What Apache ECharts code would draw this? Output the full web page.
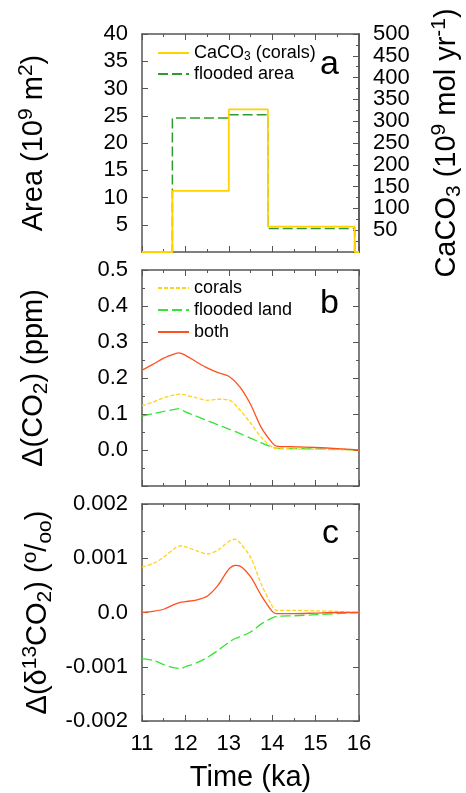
<!DOCTYPE html>
<html>
<head>
<meta charset="utf-8">
<script src="https://cdn.jsdelivr.net/npm/echarts@6/dist/echarts.min.js"></script>
<style>
    html, body { margin: 0; padding: 0; background: #fff; }
    #chart { width: 466px; height: 793px; }
</style>
</head>
<body>
<div id="chart"></div>
<script>
// panel a: step data (time in ka)
let timeA = [11, 11.7, 13.0, 13.9, 15.9, 16];
let coralCaCO3 = [0, 140, 327, 58, 0, 0];      // 10^9 mol/yr, right axis
let floodedArea = [0, 24.6, 25.2, 4.3, 0, 0];   // 10^9 m2, left axis

// panel b: delta CO2 (ppm)
let timeB = [11, 11.25, 11.5, 11.75, 11.85, 12, 12.25, 12.5, 12.75, 13, 13.25, 13.5, 13.75, 14, 14.1, 14.5, 15, 15.5, 16];
let coralsB = [0.123, 0.133, 0.145, 0.153, 0.155, 0.153, 0.145, 0.138, 0.141, 0.139, 0.112, 0.075, 0.035, 0.008, 0.004, 0.003, 0.002, 0.001, 0.0];
let floodB = [0.094, 0.101, 0.107, 0.113, 0.115, 0.106, 0.094, 0.082, 0.070, 0.058, 0.046, 0.033, 0.020, 0.008, 0.005, 0.004, 0.003, 0.002, 0.0];
let bothB = [0.222, 0.238, 0.255, 0.267, 0.270, 0.263, 0.245, 0.228, 0.215, 0.205, 0.176, 0.127, 0.062, 0.020, 0.011, 0.009, 0.007, 0.004, 0.0];

// panel c: delta d13CO2 (permil)
let timeC = [11, 11.25, 11.5, 11.75, 11.9, 12, 12.25, 12.5, 12.75, 13, 13.15, 13.25, 13.5, 13.75, 14, 14.1, 14.5, 15, 15.5, 16];
let coralsC = [0.00084, 0.0009, 0.00102, 0.00118, 0.00123, 0.00121, 0.00114, 0.00108, 0.00115, 0.00131, 0.00135, 0.00129, 0.00102, 0.00052, 0.00012, 0.00004, 0.00004, 0.00003, 0.00002, 0];
let floodC = [-0.00085, -0.00088, -0.00096, -0.00102, -0.00103, -0.001, -0.00093, -0.00083, -0.0007, -0.00055, -0.00048, -0.00045, -0.00036, -0.00021, -0.0001, -0.00007, -0.00006, -0.00004, -0.00002, 0];
let bothC = [0, 0.00002, 0.00006, 0.00015, 0.00019, 0.0002, 0.00023, 0.0003, 0.0005, 0.0008, 0.00087, 0.00086, 0.00066, 0.00031, 0.00002, -0.00002, -0.00002, -0.00001, 0, 0];

let xTicks = [11, 12, 13, 14, 15, 16];

let FONT = 'Liberation Sans';
let AXIS_COLOR = '#555';

function pairs(xs, ys) {
    return xs.map(function (x, i) { return [x, ys[i]]; });
}

let titleRich = {
    t: { fontSize: 29, fontFamily: FONT, color: '#000', lineHeight: 36 },
    sup: { fontSize: 21, fontFamily: FONT, color: '#000', verticalAlign: 'top' },
    sub: { fontSize: 21, fontFamily: FONT, color: '#000', verticalAlign: 'bottom' }
};

function xAxisFor(grid, pos, showLabel) {
    let ax = {
        type: 'value', gridIndex: grid, position: pos,
        min: xTicks[0], max: xTicks[xTicks.length - 1], interval: 1,
        axisLine: { show: true, onZero: false, lineStyle: { color: AXIS_COLOR, width: 1.5 } },
        axisTick: { show: true, inside: true, length: 6, lineStyle: { color: AXIS_COLOR } },
        minorTick: { show: true, splitNumber: 2, length: 3, lineStyle: { color: AXIS_COLOR } },
        splitLine: { show: false },
        axisLabel: { show: showLabel, showMinLabel: true, showMaxLabel: true, fontSize: 22, fontFamily: FONT, color: '#000', margin: 12 }
    };
    return ax;
}

function yAxisFor(grid, pos, min, max, step, fmt, showLabel) {
    return {
        type: 'value', gridIndex: grid, position: pos,
        min: min, max: max, interval: step,
        axisLine: { show: true, onZero: false, lineStyle: { color: AXIS_COLOR, width: 1.5 } },
        axisTick: { show: true, inside: true, length: 6, lineStyle: { color: AXIS_COLOR } },
        minorTick: { show: true, splitNumber: 2, length: 3, lineStyle: { color: AXIS_COLOR } },
        splitLine: { show: false },
        axisLabel: {
            show: showLabel, showMinLabel: true, showMaxLabel: true, hideOverlap: false,
            fontSize: 22, lineHeight: 16, fontFamily: FONT, color: '#000', margin: 14, formatter: fmt
        }
    };
}

let yA = yAxisFor(0, 'left', 0, 40, 5, function (v) { return v === 0 ? '' : String(v); }, true);
yA.minorTick.show = false;
yA.name = '{t|Area (10}{sup|9}{t| m}{sup|2}{t|)}';
yA.nameLocation = 'middle';
yA.nameGap = 90;
yA.nameTextStyle = { rich: titleRich };

// right axis labels are packed tightly, so odd and even hundreds are put on two overlapping axes
let yA2 = yAxisFor(0, 'right', 0, 500, 50, function (v) { return v % 100 === 50 ? String(v) : ''; }, true);
yA2.name = '{t|CaCO}{sub|3}{t| (10}{sup|9}{t| mol yr}{sup|-1}{t|)}';
yA2.nameLocation = 'middle';
yA2.nameRotate = 90;
yA2.nameGap = 70;
yA2.nameTextStyle = { rich: titleRich };
let yA3 = yAxisFor(0, 'right', 0, 500, 50, function (v) { return (v > 0 && v % 100 === 0) ? String(v) : ''; }, true);

let yB = yAxisFor(1, 'left', -0.1, 0.5, 0.1, function (v) { return v < -0.05 ? '' : v.toFixed(1); }, true);
yB.name = '{t|\u0394(CO}{sub|2}{t|) (ppm)}';
yB.nameLocation = 'middle';
yB.nameGap = 90;
yB.nameTextStyle = { rich: titleRich };
let yB2 = yAxisFor(1, 'right', -0.1, 0.5, 0.1, null, false);

let yC = yAxisFor(2, 'left', -0.002, 0.002, 0.001, function (v) {
    return Math.abs(v) < 1e-9 ? '0.0' : v.toFixed(3);
}, true);
yC.name = '{t|\u0394(\u03b4}{sup|13}{t|CO}{sub|2}{t|) (}{sup|o}{t|/}{sub|oo}{t|)}';
yC.nameLocation = 'middle';
yC.nameGap = 86;
yC.nameTextStyle = { rich: titleRich };
let yC2 = yAxisFor(2, 'right', -0.002, 0.002, 0.001, null, false);

let xC = xAxisFor(2, 'bottom', true);
xC.name = 'Time (ka)';
xC.nameLocation = 'middle';
xC.nameGap = 42;
xC.nameTextStyle = { fontSize: 29, fontFamily: FONT, color: '#000' };

let letterStyle = { fontSize: 34, fontWeight: 'normal', fontFamily: FONT, color: '#000' };

let option = {
    backgroundColor: '#fff',
    animation: false,
    title: [
        { text: 'a', left: 320, top: 48, padding: 0, textStyle: letterStyle },
        { text: 'b', left: 320, top: 287, padding: 0, textStyle: letterStyle },
        { text: 'c', left: 322, top: 517, padding: 0, textStyle: letterStyle }
    ],
    legend: [
        {
            data: ['CaCO3 (corals)', 'flooded area'],
            left: 152, top: 39, orient: 'vertical',
            itemWidth: 31, itemHeight: 14, itemGap: 2,
            itemStyle: { opacity: 0 },
            formatter: function (name) {
                return name === 'CaCO3 (corals)' ? '{n|CaCO}{s|3}{n| (corals)}' : '{n|' + name + '}';
            },
            textStyle: {
                rich: {
                    n: { fontSize: 18, fontFamily: FONT, color: '#000', lineHeight: 20 },
                    s: { fontSize: 12, fontFamily: FONT, color: '#000', verticalAlign: 'bottom' }
                }
            }
        },
        {
            data: ['corals', 'flooded land', 'both'],
            left: 152, top: 273, orient: 'vertical',
            itemWidth: 31, itemHeight: 14, itemGap: 2,
            itemStyle: { opacity: 0 },
            textStyle: { fontSize: 18, fontFamily: FONT, color: '#000', lineHeight: 20 }
        }
    ],
    grid: [
        { left: 142, top: 34, width: 217, height: 218 },
        { left: 142, top: 270, width: 217, height: 216 },
        { left: 142, top: 504, width: 217, height: 218 }
    ],
    xAxis: [
        xAxisFor(0, 'bottom', false), xAxisFor(0, 'top', false),
        xAxisFor(1, 'bottom', false), xAxisFor(1, 'top', false),
        xC, xAxisFor(2, 'top', false)
    ],
    yAxis: [yA, yA2, yB, yB2, yC, yC2, yA3],
    series: [
        {
            name: 'flooded area', type: 'line', step: 'end', symbol: 'none',
            xAxisIndex: 0, yAxisIndex: 0,
            data: pairs(timeA, floodedArea),
            lineStyle: { color: '#2f9a2f', width: 1.5, type: [10, 4] },
            itemStyle: { color: '#2f9a2f' }
        },
        {
            name: 'CaCO3 (corals)', type: 'line', step: 'end', symbol: 'none',
            xAxisIndex: 0, yAxisIndex: 1,
            data: pairs(timeA, coralCaCO3),
            lineStyle: { color: '#ffd200', width: 1.8 },
            itemStyle: { color: '#ffd200' }
        },
        {
            name: 'flooded land', type: 'line', smooth: 0.3, symbol: 'none',
            xAxisIndex: 2, yAxisIndex: 2,
            data: pairs(timeB, floodB),
            lineStyle: { color: '#33e633', width: 1.3, type: [10, 4] },
            itemStyle: { color: '#33e633' }
        },
        {
            name: 'corals', type: 'line', smooth: 0.3, symbol: 'none',
            xAxisIndex: 2, yAxisIndex: 2,
            data: pairs(timeB, coralsB),
            lineStyle: { color: '#ffd21e', width: 1.3, type: [4, 2] },
            itemStyle: { color: '#ffd21e' }
        },
        {
            name: 'both', type: 'line', smooth: 0.3, symbol: 'none',
            xAxisIndex: 2, yAxisIndex: 2,
            data: pairs(timeB, bothB),
            lineStyle: { color: '#ff5020', width: 1.3 },
            itemStyle: { color: '#ff5020' }
        },
        {
            name: 'flooded land (c)', type: 'line', smooth: 0.3, symbol: 'none',
            xAxisIndex: 4, yAxisIndex: 4,
            data: pairs(timeC, floodC),
            lineStyle: { color: '#33e633', width: 1.3, type: [10, 4] }
        },
        {
            name: 'corals (c)', type: 'line', smooth: 0.3, symbol: 'none',
            xAxisIndex: 4, yAxisIndex: 4,
            data: pairs(timeC, coralsC),
            lineStyle: { color: '#ffd21e', width: 1.3, type: [4, 2] }
        },
        {
            name: 'both (c)', type: 'line', smooth: 0.3, symbol: 'none',
            xAxisIndex: 4, yAxisIndex: 4,
            data: pairs(timeC, bothC),
            lineStyle: { color: '#ff5020', width: 1.3 }
        }
    ]
};

let myChart = echarts.init(document.getElementById('chart'));
myChart.setOption(option, true);
</script>
</body>
</html>
